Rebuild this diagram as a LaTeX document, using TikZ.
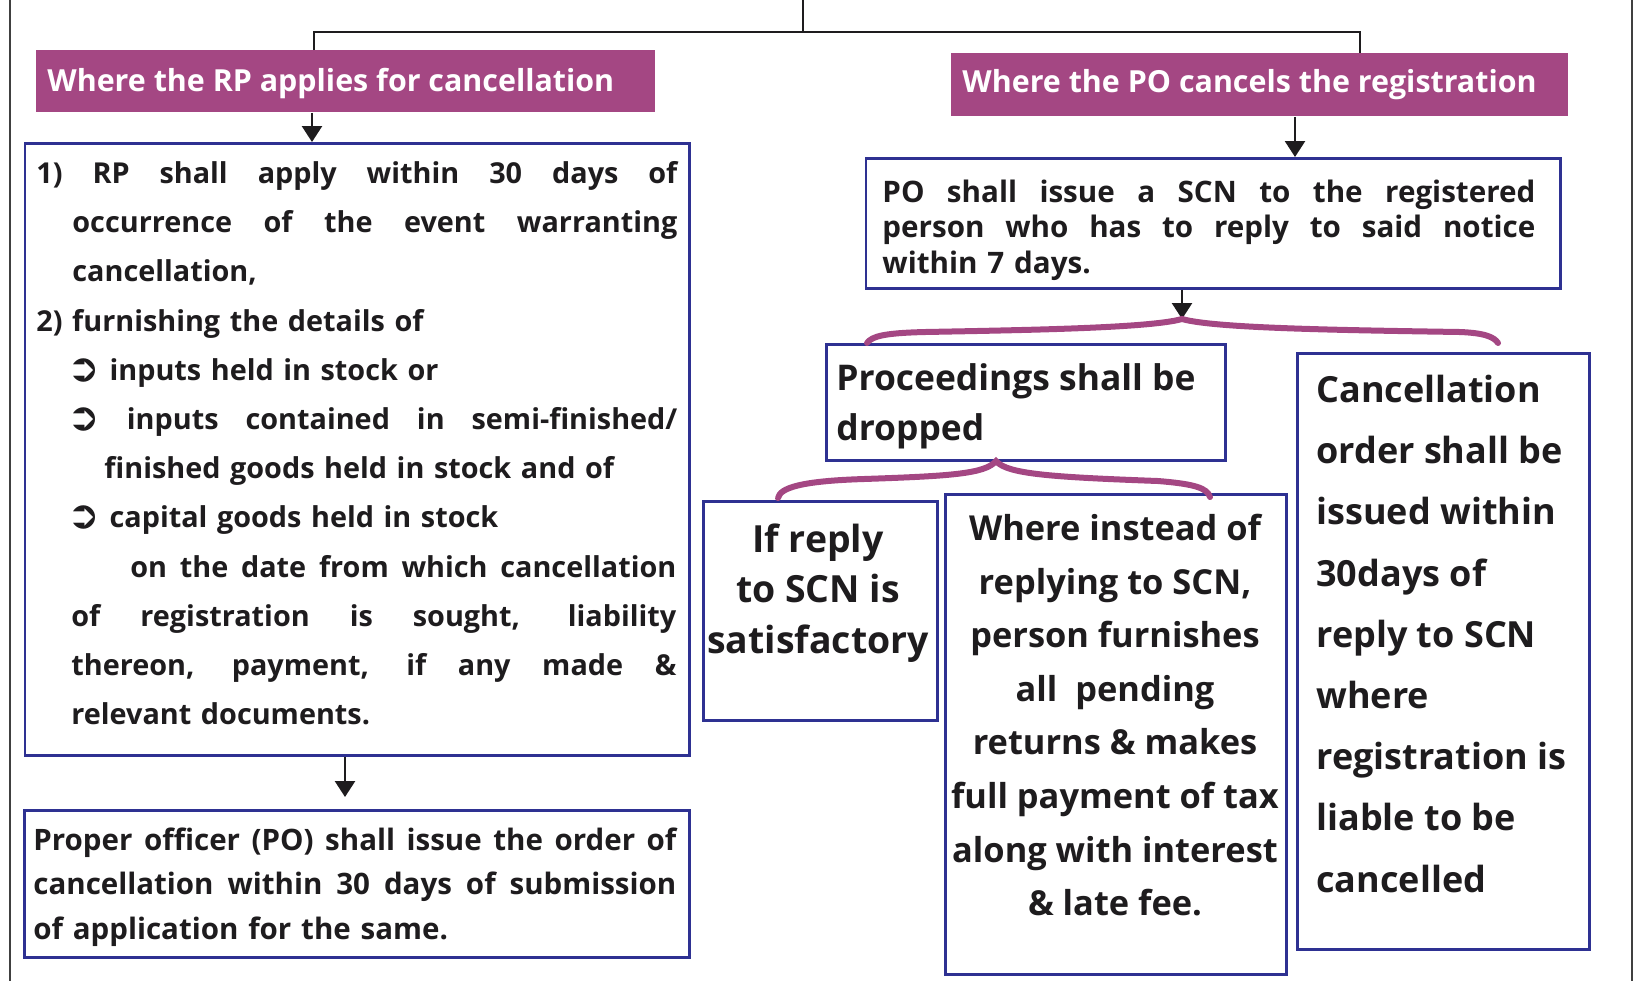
\documentclass[tikz,border=0pt]{standalone}
\usepackage{fontspec}
\usepackage{graphicx}
\setmainfont{Open Sans}
\newfontfamily\symfont{DejaVu Sans}
\usetikzlibrary{arrows.meta,calc}
\definecolor{hdr}{RGB}{164,71,131}
\definecolor{bord}{RGB}{46,49,146}
\definecolor{ink}{RGB}{30,28,30}
\newcommand\bul{\raisebox{-0.5pt}{\scalebox{1.35}{\symfont\bfseries\char"27B2}}}
\newcommand\fst{\rule{0pt}{20pt}}
\newcommand\jl[2]{\leavevmode\hbox to #1{\spaceskip=0.3em plus 1fil\relax #2}}
\begin{document}
\begin{tikzpicture}[x=0.5pt,y=-0.5pt,
  box/.style={draw=bord,line width=1.3pt,fill=white,inner sep=0pt,anchor=north west},
  hdrbox/.style={fill=hdr,draw=none,inner sep=0pt,anchor=north west},
  hdrtext/.style={text=white,inner sep=0pt,anchor=base west,font=\fontsize{15.2}{19}\selectfont\bfseries},
  txt/.style={text=ink,inner sep=0pt},
  conn/.style={draw=ink,line width=1.3pt},
  arr/.style={conn,-{Triangle[width=10pt,length=8pt]}},
  brace/.style={draw=hdr,line width=3pt,line cap=round},
  frame/.style={draw=black!75,line width=0.8pt}]
\useasboundingbox (0,0) rectangle (1641,981);
% page frame
\draw[frame] (10,0) -- (10,981);
\draw[frame] (1632,0) -- (1632,981);
% headers
\node[hdrbox,minimum width=309.5pt,minimum height=31pt] (hdr1) at (36,50) {};
\node[hdrbox,minimum width=308.5pt,minimum height=31.5pt] (hdr2) at (951,53) {};
\node[hdrtext] (hdr1t) at (47,91) {Where the RP applies for cancellation};
\node[hdrtext] (hdr2t) at (962,92) {Where the PO cancels the registration};
% boxes
\node[box,minimum width=332.25pt,minimum height=306pt] (leftbox) at (23.5,142) {};
\node[box,minimum width=332.5pt,minimum height=73.5pt] (botbox) at (23,809) {};
\node[box,minimum width=347.25pt,minimum height=65pt] (pobox) at (864.5,157) {};
\node[box,minimum width=199.5pt,minimum height=58pt] (procbox) at (825,343) {};
\node[box,minimum width=146pt,minimum height=298pt] (cancbox) at (1296,352) {};
\node[box,minimum width=117pt,minimum height=109.5pt] (ifbox) at (702,500) {};
\node[box,minimum width=170.5pt,minimum height=240pt] (wherebox) at (944,493) {};
% texts
\node[txt,anchor=north west,text width=322pt,align=left,font=\fontsize{14.4}{24.6}\selectfont\bfseries] (lefttext) at (36,143) {%
\fst\jl{320.5pt}{1) RP shall apply within 30 days of}\\
\hspace*{18pt}\jl{302.5pt}{occurrence of the event warranting}\\
\hspace*{18pt}cancellation,\\
2) furnishing the details of\\
\hspace*{15.5pt}\bul\ inputs held in stock or\\
\hspace*{15.5pt}\jl{305pt}{\bul{} inputs contained in semi-finished/}\\
\hspace*{34pt}finished goods held in stock and of\\
\hspace*{15.5pt}\bul\ capital goods held in stock\\
\hspace*{47pt}\jl{273pt}{on the date from which cancellation}\\
\hspace*{17.5pt}\jl{302.5pt}{of registration is sought, liability}\\
\hspace*{17.5pt}\jl{302.5pt}{thereon, payment, if any made \&}\\
\hspace*{17.5pt}relevant documents.};
\node[txt,anchor=north west,text width=327pt,align=left,font=\fontsize{14.75}{22.25}\selectfont\bfseries] (botext) at (33,810) {%
\fst\jl{321.5pt}{Proper officer (PO) shall issue the order of}\\
\jl{321.5pt}{cancellation within 30 days of submission}\\
of application for the same.};
\node[txt,anchor=north west,text width=328pt,align=left,font=\fontsize{14.8}{17.75}\selectfont\bfseries] (potext) at (882,162) {%
\fst\jl{326.5pt}{PO shall issue a SCN to the registered}\\
\jl{326.5pt}{person who has to reply to said notice}\\
within 7 days.};
\node[txt,anchor=north west,align=left,font=\fontsize{17.7}{25}\selectfont\bfseries] (proctext) at (836,350) {%
\fst Proceedings shall be\\dropped};
\node[txt,anchor=north west,align=left,font=\fontsize{18}{30.6}\selectfont\bfseries] (canctext) at (1316,362) {%
\fst Cancellation\\order shall be\\issued within\\30days of\\reply to SCN\\where\\registration is\\liable to be\\cancelled};
\node[txt,anchor=north,align=center,font=\fontsize{18.7}{25.25}\selectfont\bfseries] (iftext) at (818,512) {%
\fst If reply\\to SCN is\\satisfactory};
\node[txt,anchor=north,align=center,font=\fontsize{17.2}{26.8}\selectfont\bfseries] (wheretext) at (1115,500) {%
\fst Where instead of\\replying to SCN,\\person furnishes\\all\ \ pending\\returns \& makes\\full payment of tax\\along with interest\\\& late fee.};
% connectors
\coordinate (topend) at (803,0);
\coordinate (lj) at (314,32);
\coordinate (rj) at (1360,32);
\coordinate (a1) at (312,0);
\coordinate (a2) at (1295,0);
\coordinate (a3) at (345,0);
\coordinate (cusp1) at (1182,319);
\coordinate (cusp2) at (996,461);
\draw[conn] (topend) -- (topend |- lj);
\draw[conn] (hdr1.north -| lj) -- (lj) -- (rj) -- (hdr2.north -| rj);
\draw[arr] (hdr1.south -| a1) -- (leftbox.north -| a1);
\draw[arr] (hdr2.south -| a2) -- (pobox.north -| a2);
\draw[arr] (leftbox.south -| a3) -- ($(botbox.north -| a3)+(0,-12)$);
\draw[arr] (pobox.south -| cusp1) -- (cusp1);
% braces
\draw[brace] (867,343) .. controls (872,336) and (885,333) .. (925,332)
  .. controls (1030,330) and (1150,328) .. (cusp1)
  .. controls (1214,328) and (1330,330) .. (1460,332)
  .. controls (1485,333) and (1494,337) .. (1498,343);
\draw[brace] (778,498) .. controls (780,488) and (800,481) .. (864,479)
  .. controls (950,476) and (985,474) .. (cusp2)
  .. controls (1007,474) and (1050,477) .. (1158,481)
  .. controls (1195,484) and (1207,488) .. (1210,497);
\end{tikzpicture}
\end{document}
